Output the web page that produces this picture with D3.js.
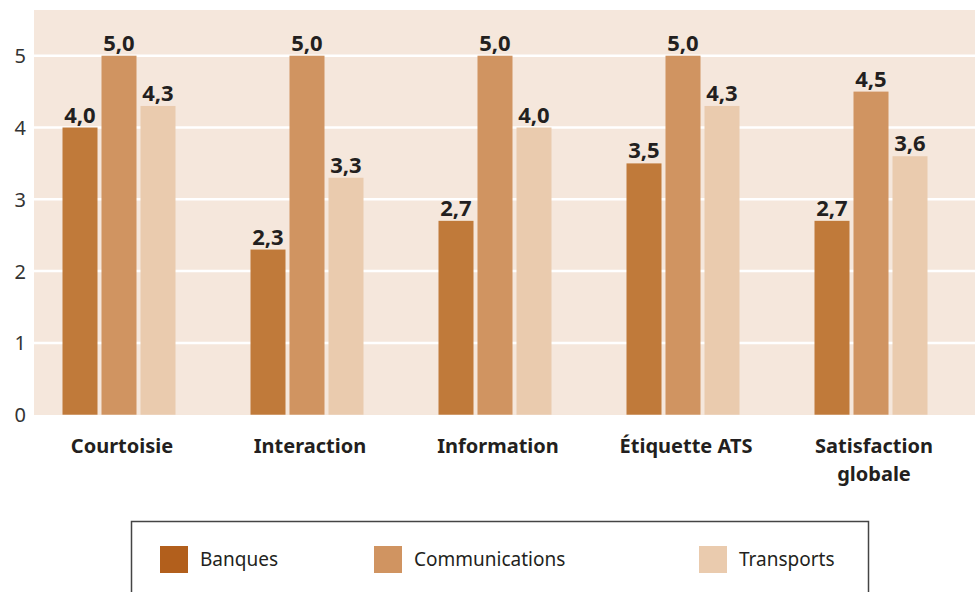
<!DOCTYPE html>
<html>
<head>
<meta charset="utf-8">
<script src="https://cdn.jsdelivr.net/npm/d3@7"></script>
<style>
  body { margin: 0; background: #fff; }
  svg { display: block; font-family: "Noto Sans", sans-serif; }
</style>
</head>
<body>
<div id="chart"></div>
<script>
// Data
const categories = ['Courtoisie', 'Interaction', 'Information', 'Étiquette ATS', 'Satisfaction globale'];
const series = ['Banques', 'Communications', 'Transports'];
const banques = [4.0, 2.3, 2.7, 3.5, 2.7];
const communications = [5.0, 5.0, 5.0, 5.0, 4.5];
const transports = [4.3, 3.3, 4.0, 4.3, 3.6];
const yTicks = [0, 1, 2, 3, 4, 5];

const values = [banques, communications, transports];
const barColors = ['#c07a3a', '#d09461', '#eacbae'];
const legendColors = ['#b25f1c', '#d09461', '#eacbae'];

const width = 975, height = 592;
const plot = {left: 34, right: 975, top: 10, bottom: 415};

const svg = d3.select('#chart')
  .append('svg')
  .attr('width', width)
  .attr('height', height);

// Background
svg.append('rect')
  .attr('x', plot.left)
  .attr('y', plot.top)
  .attr('width', plot.right - plot.left)
  .attr('height', plot.bottom - plot.top)
  .attr('fill', '#f5e7dc');

// Scales
const y = d3.scaleLinear().domain([0, 5]).range([414.7, 55.7]);

const x0 = d3.scaleBand()
  .domain(categories)
  .range([25, 965])
  .padding(0);

const groupW = 113;
const x1 = d3.scaleBand()
  .domain(series)
  .range([x0.bandwidth() / 2 - groupW / 2, x0.bandwidth() / 2 + groupW / 2])
  .paddingInner(4 / 39)
  .paddingOuter(0);

// Gridlines
svg.append('g')
  .selectAll('line')
  .data(yTicks.filter(d => d > 0))
  .enter()
  .append('line')
  .attr('x1', plot.left)
  .attr('x2', plot.right)
  .attr('y1', d => y(d))
  .attr('y2', d => y(d))
  .attr('stroke', '#fff')
  .attr('stroke-width', 2.5);

// Y axis labels
const yAxis = svg.append('g')
  .attr('transform', 'translate(26,0)')
  .call(d3.axisLeft(y).tickValues(yTicks).tickSize(0).tickPadding(0).tickFormat(d3.format('d')));
yAxis.select('.domain').remove();
yAxis.selectAll('text')
  .attr('font-family', '"Noto Sans", sans-serif')
  .attr('font-size', 20)
  .attr('fill', '#333')
  .attr('dy', '0.35em');

// Bars
const groups = svg.append('g')
  .selectAll('g')
  .data(categories)
  .enter()
  .append('g')
  .attr('transform', d => `translate(${x0(d)},0)`);

const fmt = v => v.toFixed(1).replace('.', ',');

groups.selectAll('rect')
  .data((c, i) => series.map((s, j) => ({s, j, v: values[j][i]})))
  .enter()
  .append('rect')
  .attr('x', d => x1(d.s))
  .attr('y', d => y(d.v))
  .attr('width', x1.bandwidth())
  .attr('height', d => y(0) - y(d.v))
  .attr('fill', d => barColors[d.j]);

groups.selectAll('text.val')
  .data((c, i) => series.map((s, j) => ({s, j, v: values[j][i]})))
  .enter()
  .append('text')
  .attr('class', 'val')
  .attr('x', d => x1(d.s) + x1.bandwidth() / 2)
  .attr('y', d => y(d.v) - 5)
  .attr('text-anchor', 'middle')
  .attr('font-size', 22)
  .attr('font-weight', 'bold')
  .attr('fill', '#231f20')
  .text(d => fmt(d.v));

// Category labels
const catText = svg.append('g')
  .selectAll('text')
  .data(categories)
  .enter()
  .append('text')
  .attr('x', d => x0(d) + x0.bandwidth() / 2 + 3)
  .attr('y', 453)
  .attr('text-anchor', 'middle')
  .attr('font-size', 20)
  .attr('font-weight', 'bold')
  .attr('fill', '#231f20');

catText.each(function(d) {
  const words = d === 'Satisfaction globale' ? ['Satisfaction', 'globale'] : [d];
  const t = d3.select(this);
  words.forEach((w, i) => {
    t.append('tspan')
      .attr('x', t.attr('x'))
      .attr('dy', i === 0 ? 0 : 28)
      .text(w);
  });
});

// Legend
const legend = svg.append('g');
legend.append('rect')
  .attr('x', 131.5)
  .attr('y', 521.5)
  .attr('width', 737)
  .attr('height', 80)
  .attr('fill', '#fff')
  .attr('stroke', '#444')
  .attr('stroke-width', 1.5);

const legendX = [160, 374, 699];
series.forEach((s, i) => {
  legend.append('rect')
    .attr('x', legendX[i])
    .attr('y', 546)
    .attr('width', 28)
    .attr('height', 27)
    .attr('fill', legendColors[i]);
  legend.append('text')
    .attr('x', legendX[i] + 40)
    .attr('y', 566)
    .attr('font-size', 19)
    .attr('fill', '#231f20')
    .text(s);
});
</script>
</body>
</html>
